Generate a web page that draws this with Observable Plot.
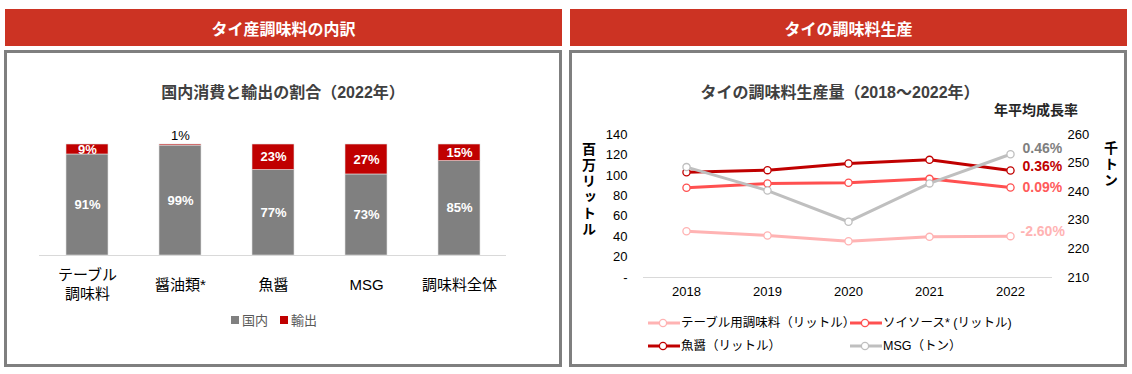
<!DOCTYPE html>
<html><head><meta charset="utf-8">
<script src="https://cdn.jsdelivr.net/npm/d3@7"></script>
<script src="https://cdn.jsdelivr.net/npm/@observablehq/plot@0.6"></script>
<style>
body{margin:0;width:1132px;height:374px;position:relative;background:#fff;font-family:"Liberation Sans","Noto Sans CJK JP",sans-serif;overflow:hidden}
.hdr{position:absolute;top:9px;height:37px;width:557px;background:#cc3323;color:#fff;font-weight:bold;font-size:16px;display:flex;align-items:center;justify-content:center;font-family:"Noto Sans CJK JP",sans-serif}
.box{position:absolute;top:50px;height:311px;width:552px;border:3px solid #7f7f7f}
.ttl{position:absolute;text-align:center;font-weight:bold;font-size:16px;line-height:20px;color:#404040;white-space:nowrap}
.vlab{position:absolute;writing-mode:vertical-rl;text-orientation:upright;font-size:14px;font-weight:bold;letter-spacing:2px;color:#000;font-family:"Noto Sans CJK JP",sans-serif}
.chart{position:absolute;top:0}
.leg{position:absolute;font-size:13px;line-height:16px;white-space:nowrap;display:flex;align-items:center}
.sq{display:inline-block;width:8px;height:8px;margin-right:3px}
</style></head>
<body>
<div class="hdr" style="left:5px">タイ産調味料の内訳</div>
<div class="hdr" style="left:570px">タイの調味料生産</div>
<div class="box" style="left:4px"></div>
<div class="box" style="left:569px"></div>
<div class="ttl" style="left:83px;width:400px;top:83px">国内消費と輸出の割合（2022年）</div>
<div class="ttl" style="left:640px;width:400px;top:83px">タイの調味料生産量（2018～2022年）</div>
<div class="ttl" style="left:976px;width:120px;top:100px;font-size:14px;color:#262626">年平均成長率</div>
<div class="vlab" style="left:579px;top:142px">百万リットル</div>
<div class="vlab" style="left:1101px;top:141px">千トン</div>
<div id="c1" class="chart" style="left:0"></div>
<div id="c2" class="chart" style="left:566px"></div>
<div id="leg1"></div>
<div id="leg2"></div>
<script>
// ---- Left chart data ----
const categories = ["テーブル\n調味料", "醤油類*", "魚醤", "MSG", "調味料全体"];
const domestic = [91, 99, 77, 73, 85];
const exportShare = [9, 1, 23, 27, 15];
const parts = ["国内", "輸出"];
const partColors = ["#808080", "#c00000"];

// ---- Right chart data ----
const years = [2018, 2019, 2020, 2021, 2022];
const tableSeasoning = [45.3, 41.1, 35.5, 39.8, 40.5];
const soySauce = [87.8, 92.0, 92.7, 96.6, 88.1];
const fishSauce = [103.1, 105.1, 111.6, 115.2, 104.8];
const msgTons = [248.6, 240.4, 229.5, 242.9, 253.1];
const seriesNames = ["テーブル用調味料（リットル）", "ソイソース* (リットル)", "魚醤（リットル）", "MSG（トン）"];
const seriesColors = ["#ffb3b3", "#ff5050", "#c00000", "#bfbfbf"];
const cagrLabels = ["-2.60%", "0.09%", "0.36%", "0.46%"];
const cagrColors = ["#ffb3b3", "#ff5b5b", "#c00000", "#7f7f7f"];
const leftTicks = [0, 20, 40, 60, 80, 100, 120, 140];
const rightTicks = [210, 220, 230, 240, 250, 260];

const fontStyle = {fontFamily: '"Liberation Sans","Noto Sans CJK JP",sans-serif', fontSize: "13px", color: "#000", background: "transparent", overflow: "visible"};

// ---- Left chart ----
const rows = categories.flatMap((c, i) => [
  {cat: c, part: parts[0], v: domestic[i], base: 0},
  {cat: c, part: parts[1], v: exportShare[i], base: domestic[i]}
]);
const c1 = Plot.plot({
  width: 566, height: 374,
  marginLeft: 39, marginRight: 60, marginTop: 144, marginBottom: 119,
  style: fontStyle,
  x: {domain: categories, paddingInner: 0.55, paddingOuter: 0.275, axis: null},
  y: {domain: [0, 100], axis: null},
  color: {domain: parts, range: partColors},
  marks: [
    Plot.barY(rows, {x: "cat", y1: "base", y2: d => d.base + d.v, fill: "part", stroke: "#e0e0e0", strokeWidth: 0.6}),
    Plot.ruleY([0], {stroke: "#d9d9d9", strokeWidth: 1}),
    Plot.text(rows.filter(d => d.v >= 5), {x: "cat", y: d => d.base + d.v / 2, text: d => d.v + "%", fill: "white", fontWeight: "bold", fontSize: 13}),
    Plot.text(rows.filter(d => d.v < 5), {x: "cat", y: d => d.base + d.v, text: d => d.v + "%", dy: -9, fill: "#000", fontSize: 13}),
    Plot.text(categories, {x: d => d, y: () => 0, text: d => d, dy: 28, lineAnchor: "middle", lineHeight: 1.27, fontSize: 15, fill: "#000"})
  ]
});
document.getElementById("c1").append(c1);

// ---- Right chart ----
const toLeft = v => (v - 210) * 140 / 50;
const fromLeft = v => Math.round(210 + v * 50 / 140);
const seriesValues = [tableSeasoning, soySauce, fishSauce, msgTons.map(toLeft)];
const labelDy = [-4.5, 0.5, -3.5, -5.5];
const labelDx = [10, 12, 12, 12];
const lineMarks = seriesValues.flatMap((vals, k) => {
  const pts = years.map((y, i) => ({year: y, v: vals[i]}));
  return [
    Plot.line(pts, {x: "year", y: "v", stroke: seriesColors[k], strokeWidth: 3}),
    Plot.dot(pts, {x: "year", y: "v", r: 3.6, fill: "white", stroke: seriesColors[k], strokeWidth: 1.3}),
    Plot.text([cagrLabels[k]], {x: () => years[years.length - 1], y: () => vals[vals.length - 1], text: d => d, fill: cagrColors[k], fontWeight: "bold", fontSize: 14, textAnchor: "start", dx: labelDx[k], dy: labelDy[k]})
  ];
});
const c2 = Plot.plot({
  width: 566, height: 374,
  marginLeft: 77, marginRight: 80, marginTop: 134, marginBottom: 97,
  style: fontStyle,
  x: {type: "point", domain: years, padding: 0.5},
  y: {domain: [0, 140]},
  marks: [
    Plot.ruleY([0], {stroke: "#d9d9d9", strokeWidth: 1}),
    Plot.axisX({tickSize: 0, tickPadding: 9, tickFormat: d => String(d), fontSize: 13, label: null}),
    Plot.axisY({ticks: leftTicks, tickFormat: d => d === 0 ? "-" : String(d), tickSize: 0, tickPadding: 16, fontSize: 13, label: null}),
    Plot.axisY({anchor: "right", ticks: rightTicks.map(toLeft), tickFormat: d => String(fromLeft(d)), tickSize: 0, tickPadding: 15, fontSize: 13, label: null}),
    ...lineMarks
  ]
});
document.getElementById("c2").append(c2);

// ---- Legends ----
const leg1 = document.getElementById("leg1");
const leg1Pos = [231, 280];
parts.forEach((p, i) => {
  const d = document.createElement("div");
  d.className = "leg";
  d.style.left = leg1Pos[i] + "px"; d.style.top = "312px"; d.style.color = "#595959";
  d.innerHTML = `<span class="sq" style="background:${partColors[i]}"></span><span style="font-family:'Noto Sans CJK JP',sans-serif">${p}</span>`;
  leg1.append(d);
});
const leg2 = document.getElementById("leg2");
const leg2Pos = [[648, 315], [850, 315], [648, 338], [850, 338]];
seriesNames.forEach((n, i) => {
  const d = document.createElement("div");
  d.className = "leg";
  d.style.left = leg2Pos[i][0] + "px"; d.style.top = leg2Pos[i][1] + "px"; d.style.fontSize = "12.5px"; d.style.color = "#000";
  d.innerHTML = `<svg width="32" height="10" style="margin-right:1px"><line x1="0" x2="32" y1="5" y2="5" stroke="${seriesColors[i]}" stroke-width="3"/><circle cx="15" cy="5" r="3.6" fill="white" stroke="${seriesColors[i]}" stroke-width="1.3"/></svg><span>${n}</span>`;
  leg2.append(d);
});
</script>
</body></html>
